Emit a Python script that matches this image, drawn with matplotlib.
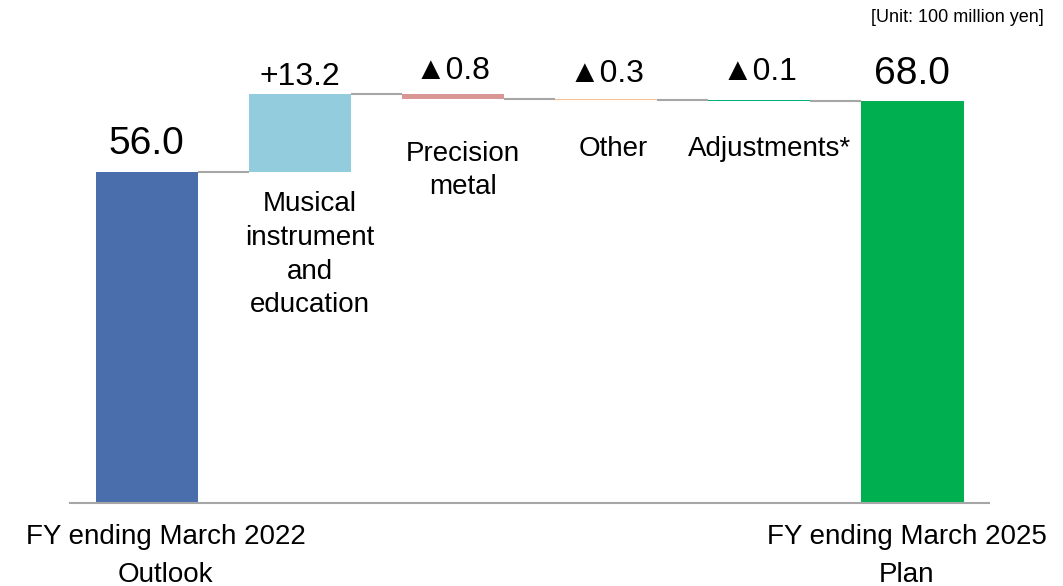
import matplotlib.pyplot as plt
import numpy as np

plt.rcParams['font.family'] = ['Liberation Sans', 'DejaVu Sans']

# values in 100 million yen
steps = ["start", "Musical instrument and education", "Precision metal", "Other", "Adjustments*", "end"]
deltas = [56.0, 13.2, -0.8, -0.3, -0.1]
total = 68.0
value_labels = ["56.0", "+13.2", "\u25b20.8", "\u25b20.3", "\u25b20.1", "68.0"]
cat_labels = ["", "Musical\ninstrument\nand\neducation", "Precision\nmetal", "Other", "Adjustments*", ""]
colors = ["#4A6DAB", "#93CDDD", "#D99694", "#FAC090", "#00B07A", "#00B050"]

# layout tweaks (points above bar top, label positions; y = last-line baseline)
label_gap = [13, 6.8, 11, 12.2, 14.4, 12.2]
cat_dx = [0, 0.067, 0.067, 0.045, 0.069, 0]
cat_y = [0, 32.3, 52.2, 58.7, 58.7, 0]

cum = np.cumsum(deltas)
bottoms = [0.0]
heights = [deltas[0]]
for i in range(1, len(deltas)):
    lo = min(cum[i - 1], cum[i])
    bottoms.append(lo)
    heights.append(abs(deltas[i]))
bottoms.append(0.0)
heights.append(total)
tops = [b + h for b, h in zip(bottoms, heights)]
levels = list(cum) + [total]

fig = plt.figure(figsize=(10.63, 5.86), dpi=100)
ax = fig.add_axes([0.0659, 0.1416, 0.8645, 0.7565])

x = np.arange(len(steps))
w = 0.667
ax.bar(x, heights, bottom=bottoms, width=w, color=colors, zorder=2)

# connector lines
for i in range(len(steps) - 1):
    ax.plot([x[i] + w / 2, x[i + 1] - w / 2], [levels[i], levels[i]],
            color="#A6A6A6", lw=1.5, zorder=1, solid_capstyle="butt")

ax.set_xlim(-0.5, 5.5)
ax.set_ylim(0, 75)
for s in ["top", "right", "left"]:
    ax.spines[s].set_visible(False)
ax.spines["bottom"].set_color("#A6A6A6")
ax.spines["bottom"].set_linewidth(1.5)
ax.set_xticks([])
ax.set_yticks([])

# value labels
for i, lab in enumerate(value_labels):
    big = i in (0, len(steps) - 1)
    ax.annotate(lab, (x[i], tops[i]), xytext=(0, label_gap[i]), textcoords="offset points",
                ha="center", va="baseline", fontsize=28 if big else 23, color="black")

# category labels under the step bars
for i, lab in enumerate(cat_labels):
    if not lab:
        continue
    ax.text(x[i] + cat_dx[i], cat_y[i], lab, ha="center", va="baseline",
            fontsize=20, linespacing=1.38)

# bottom labels
ax.text(0.124, -13.3, "FY ending March 2022\nOutlook", ha="center", va="baseline",
        fontsize=20, linespacing=1.6, clip_on=False)
ax.text(4.961, -13.3, "FY ending March 2025\nPlan", ha="center", va="baseline",
        fontsize=20, linespacing=1.6, clip_on=False)

fig.text(0.982, 0.985, "[Unit: 100 million yen]", ha="right", va="top", fontsize=13)

fig.savefig("out.png", dpi=100)
